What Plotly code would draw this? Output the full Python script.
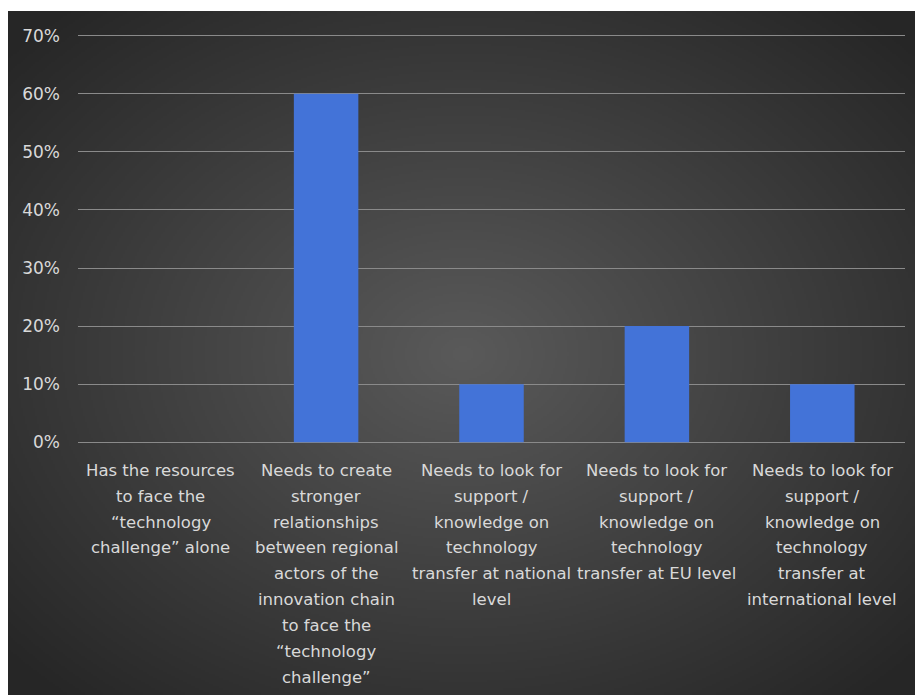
import numpy as np
import zlib, struct, base64
import plotly.graph_objects as go

# ---- data ----
categories = [
    "Has the resources to face the “technology challenge” alone",
    "Needs to create stronger relationships between regional actors of the innovation chain to face the “technology challenge”",
    "Needs to look for support / knowledge on technology transfer at national level",
    "Needs to look for support / knowledge on technology transfer at EU level",
    "Needs to look for support / knowledge on technology transfer at international level",
]
label_lines = [
    ["Has the resources", "to face the", "“technology", "challenge” alone"],
    ["Needs to create", "stronger", "relationships", "between regional", "actors of the",
     "innovation chain", "to face the", "“technology", "challenge”"],
    ["Needs to look for", "support /", "knowledge on", "technology", "transfer at national", "level"],
    ["Needs to look for", "support /", "knowledge on", "technology", "transfer at EU level"],
    ["Needs to look for", "support /", "knowledge on", "technology", "transfer at", "international level"],
]
values = [0.0, 0.60, 0.10, 0.20, 0.10]
y_ticks = [0, 0.1, 0.2, 0.3, 0.4, 0.5, 0.6, 0.7]
y_ticktext = ["0%", "10%", "20%", "30%", "40%", "50%", "60%", "70%"]

# ---- radial gradient background image ----
def make_png(arr):
    h, w, _ = arr.shape
    raw = b"".join(b"\x00" + arr[i].tobytes() for i in range(h))
    def chunk(t, d):
        c = struct.pack(">I", len(d)) + t + d
        return c + struct.pack(">I", zlib.crc32(t + d) & 0xffffffff)
    return (b"\x89PNG\r\n\x1a\n" + chunk(b"IHDR", struct.pack(">IIBBBBB", w, h, 8, 2, 0, 0, 0))
            + chunk(b"IDAT", zlib.compress(raw, 9)) + chunk(b"IEND", b""))

W, H = 454, 342
yy, xx = np.mgrid[0:H, 0:W].astype(float)
cx, cy = W * 0.5, H * 0.5
t = np.sqrt(((xx - cx) / (W * 0.5 * 1.35)) ** 2 + ((yy - cy) / (H * 0.5 * 1.35)) ** 2)
t = np.clip(t, 0, 1)
c0, c1 = 90.0, 38.0
v = (c0 + (c1 - c0) * t).astype(np.uint8)
img = np.stack([v, v, v], axis=-1)
src = "data:image/png;base64," + base64.b64encode(make_png(img)).decode()

# ---- figure ----
ymin, ymax = -0.003, 0.703
FW, FH = 915, 695
px_per = 406 / 0.7
T = int(round(36 - (ymax - 0.7) * px_per))
B = int(round(FH - 442 - (0 - ymin) * px_per))
L, R = 78, 10
pw, ph = FW - L - R, FH - T - B

fig = go.Figure()
fig.add_trace(go.Bar(
    x=categories, y=values,
    marker=dict(color="#4373d8", line=dict(width=0)),
    hoverinfo="skip",
))

annotations = []
for cat, lines in zip(categories, label_lines):
    for k, line in enumerate(lines):
        annotations.append(dict(
            x=cat, xref="x", y=0, yref="y", yanchor="middle", xanchor="center",
            yshift=-28 - k * 25.9, text=line, showarrow=False,
            font=dict(family="DejaVu Sans", size=16.5, color="#d9d9d9"),
        ))

fig.update_layout(
    width=FW, height=FH,
    margin=dict(l=L, r=R, t=T, b=B, pad=0),
    paper_bgcolor="white",
    plot_bgcolor="rgba(0,0,0,0)",
    bargap=0.61,
    showlegend=False,
    annotations=annotations,
    images=[dict(
        source=src, xref="paper", yref="paper",
        x=(8 - L) / pw, y=1 + (T - 11) / ph,
        sizex=(FW - 8) / pw, sizey=(FH - 11) / ph,
        xanchor="left", yanchor="top", sizing="stretch", layer="below",
    )],
    xaxis=dict(showticklabels=False, showgrid=False, zeroline=False, showline=False,
               fixedrange=True),
    yaxis=dict(range=[ymin, ymax], tickvals=y_ticks, ticktext=y_ticktext,
               showgrid=True, gridcolor="#8a8a8a", gridwidth=1, zeroline=False,
               showline=False, ticklabelstandoff=17,
               tickfont=dict(family="DejaVu Sans", size=17, color="#d9d9d9")),
)

fig.write_html("out.html")
